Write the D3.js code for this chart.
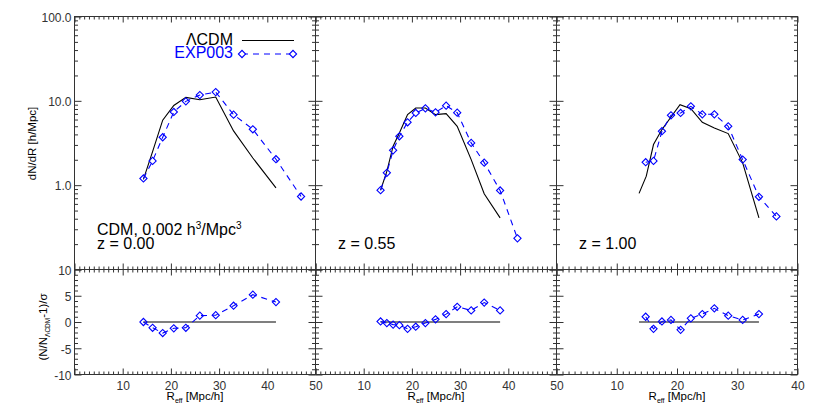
<!DOCTYPE html>
<html><head><meta charset="utf-8">
<script src="https://cdn.jsdelivr.net/npm/d3@7"></script>
<style>
body{margin:0;background:#fff}
svg{display:block;font-family:"Liberation Sans",Arial,Helvetica,sans-serif}
</style></head><body>
<svg id="c" width="830" height="415"></svg>
<script>
// ---------------- data ----------------
const redshiftLabels = ["z = 0.00", "z = 0.55", "z = 1.00"];
const seriesNames = ["\u039bCDM", "EXP003"];
const xDomains = [[0, 50], [0, 50], [0, 40]];
const xMajorTicks = [[0, 10, 20, 30, 40, 50], [0, 10, 20, 30, 40, 50], [0, 10, 20, 30, 40]];
const yTopTicks = [0.1, 1, 10, 100];
const yBotTicks = [-10, -5, 0, 5, 10];

// z = 0.00
const lcdmR_z0 = [14.3, 16.2, 18.3, 20.6, 23.1, 26.0, 29.3, 33.0, 37.0, 41.8];
const lcdmN_z0 = [1.17, 2.5, 5.9, 8.8, 11.0, 10.3, 11.1, 4.4, 2.1, 0.93];
const expR_z0 = [14.3, 16.2, 18.3, 20.6, 23.1, 26.0, 29.3, 33.0, 37.0, 41.8, 47.0];
const expN_z0 = [1.20, 1.94, 3.70, 7.38, 9.86, 11.7, 12.7, 6.86, 4.60, 2.03, 0.734];
const sigR_z0 = [14.3, 16.2, 18.3, 20.6, 23.1, 26.0, 29.3, 33.0, 37.0, 41.8];
const sigV_z0 = [0.0, -1.1, -2.1, -1.2, -1.1, 1.2, 1.3, 3.1, 5.2, 3.8];

// z = 0.55
const lcdmR_z1 = [13.5, 14.8, 16.1, 17.4, 19.1, 20.8, 22.8, 24.9, 27.1, 29.4, 32.3, 35.0, 38.3];
const lcdmN_z1 = [0.87, 1.46, 2.9, 4.16, 6.86, 8.23, 8.23, 6.86, 7.05, 4.99, 2.01, 0.79, 0.41];
const expR_z1 = [13.5, 14.8, 16.1, 17.4, 19.1, 20.8, 22.8, 24.9, 27.1, 29.4, 32.3, 35.0, 38.3, 41.9];
const expN_z1 = [0.873, 1.40, 2.59, 3.80, 5.57, 7.18, 8.15, 7.31, 8.77, 7.24, 3.17, 1.85, 0.865, 0.234];
const sigR_z1 = [13.5, 14.8, 16.1, 17.4, 19.1, 20.8, 22.8, 24.9, 27.1, 29.4, 32.3, 35.0, 38.3];
const sigV_z1 = [0.1, -0.2, -0.5, -0.6, -1.3, -0.9, -0.2, 0.5, 1.5, 2.9, 2.2, 3.7, 2.2];

// z = 1.00
const lcdmR_z2 = [13.7, 14.9, 16.1, 17.5, 19.0, 20.5, 22.3, 24.2, 26.2, 28.5, 30.9, 33.6];
const lcdmN_z2 = [0.80, 1.28, 3.03, 4.56, 6.44, 9.01, 8.08, 5.57, 4.77, 4.09, 1.84, 0.41];
const expR_z2 = [14.8, 16.1, 17.5, 19.0, 20.6, 22.3, 24.2, 26.2, 28.5, 30.9, 33.6, 36.5];
const expN_z2 = [1.87, 1.94, 4.36, 6.74, 7.18, 8.61, 6.92, 6.92, 4.99, 2.01, 0.728, 0.426];
const sigR_z2 = [14.8, 16.1, 17.5, 19.0, 20.6, 22.3, 24.2, 26.2, 28.5, 30.9, 33.6];
const sigV_z2 = [1.0, -1.3, 0.1, 0.4, -1.5, 0.7, 1.5, 2.6, 1.2, 0.4, 1.5];

const panels = [
  {lR: lcdmR_z0, lN: lcdmN_z0, eR: expR_z0, eN: expN_z0, sR: sigR_z0, sV: sigV_z0},
  {lR: lcdmR_z1, lN: lcdmN_z1, eR: expR_z1, eN: expN_z1, sR: sigR_z1, sV: sigV_z1},
  {lR: lcdmR_z2, lN: lcdmN_z2, eR: expR_z2, eN: expN_z2, sR: sigR_z2, sV: sigV_z2}
];

// ---------------- layout ----------------
const lefts = [74.5, 315.5, 556.5], rights = [315.5, 556.5, 797.5];
const topT = 16.5, topB = 269.5, botT = 269.5, botB = 374.5;
const AX = "#333", BLUE = "#0000ff";
const FONT = '"Liberation Sans",Arial,Helvetica,sans-serif';

const svg = d3.select("#c");

function styleAxis(g) {
  g.select(".domain").remove();
  g.attr("font-size", 12).attr("font-family", FONT).attr("color", AX);
  g.selectAll("line").attr("stroke-width", 1);
}

function box(g, x, y, majX, minX, majY, minY, fmtX, fmtY, lenX, lenY) {
  const [x0, x1] = x.range(), yr = y.range();
  const yb = Math.max(...yr), yt = Math.min(...yr);
  // bottom
  g.append("g").attr("transform", `translate(0,${yb})`)
    .call(d3.axisBottom(x).tickValues(majX).tickSizeInner(-lenX[0]).tickSizeOuter(0).tickPadding(7).tickFormat(fmtX)).call(styleAxis);
  g.append("g").attr("transform", `translate(0,${yb})`)
    .call(d3.axisBottom(x).tickValues(minX).tickSizeInner(-lenX[1]).tickSizeOuter(0).tickFormat("")).call(styleAxis);
  // top
  g.append("g").attr("transform", `translate(0,${yt})`)
    .call(d3.axisTop(x).tickValues(majX).tickSizeInner(-lenX[0]).tickSizeOuter(0).tickFormat("")).call(styleAxis);
  g.append("g").attr("transform", `translate(0,${yt})`)
    .call(d3.axisTop(x).tickValues(minX).tickSizeInner(-lenX[1]).tickSizeOuter(0).tickFormat("")).call(styleAxis);
  // left
  const la = g.append("g").attr("transform", `translate(${x0},0)`)
    .call(d3.axisLeft(y).tickValues(majY).tickSizeInner(-lenY[0]).tickSizeOuter(0).tickPadding(3).tickFormat(fmtY)).call(styleAxis);
  la.selectAll("text").attr("dy", "0.4em");
  g.append("g").attr("transform", `translate(${x0},0)`)
    .call(d3.axisLeft(y).tickValues(minY).tickSizeInner(-lenY[1]).tickSizeOuter(0).tickFormat("")).call(styleAxis);
  // right
  g.append("g").attr("transform", `translate(${x1},0)`)
    .call(d3.axisRight(y).tickValues(majY).tickSizeInner(-lenY[0]).tickSizeOuter(0).tickFormat("")).call(styleAxis);
  g.append("g").attr("transform", `translate(${x1},0)`)
    .call(d3.axisRight(y).tickValues(minY).tickSizeInner(-lenY[1]).tickSizeOuter(0).tickFormat("")).call(styleAxis);
  g.append("rect").attr("x", x0).attr("y", yt).attr("width", x1 - x0).attr("height", yb - yt)
    .attr("fill", "none").attr("stroke", AX).attr("stroke-width", 1);
}

const logMinor = [];
[0.1, 1, 10].forEach(d => { for (let k = 2; k <= 9; k++) logMinor.push(d * k); });
const diamond = d3.symbol().type(d3.symbolSquare).size(26);

panels.forEach((p, i) => {
  const x = d3.scaleLinear().domain(xDomains[i]).range([lefts[i], rights[i]]);
  const yT = d3.scaleLog().domain([0.1, 100]).range([topB, topT]);
  const yB = d3.scaleLinear().domain([-10, 10]).range([botB, botT]);
  const minX = d3.range(xDomains[i][0], xDomains[i][1] + 0.001, 1).filter(v => v % 10 !== 0);
  const g = svg.append("g");

  const fmtX = d => (d === 0 ? "" : d);
  box(g, x, yT, xMajorTicks[i], minX, yTopTicks, logMinor, "",
      i === 0 ? (d => (d >= 1 ? d.toFixed(1) : "")) : "", [6, 3], [7, 3.5]);
  box(g, x, yB, xMajorTicks[i], minX, yBotTicks, d3.range(-9, 10).filter(v => v % 5 !== 0), fmtX,
      i === 0 ? (d => d) : "", [6, 3], [7, 3.5]);

  // top panel lines
  const lineT = d3.line().x(d => x(d[0])).y(d => yT(d[1]));
  g.append("path").datum(d3.zip(p.lR, p.lN)).attr("d", lineT)
    .attr("fill", "none").attr("stroke", "#000").attr("stroke-width", 1.1);
  g.append("path").datum(d3.zip(p.eR, p.eN)).attr("d", lineT)
    .attr("fill", "none").attr("stroke", BLUE).attr("stroke-width", 1.1).attr("stroke-dasharray", "6,5");
  g.selectAll(".dt").data(d3.zip(p.eR, p.eN)).join("path")
    .attr("d", diamond).attr("transform", d => `translate(${x(d[0])},${yT(d[1])}) rotate(45)`)
    .attr("fill", "none").attr("stroke", BLUE).attr("stroke-width", 1.1);

  // bottom panel
  const lineB = d3.line().x(d => x(d[0])).y(d => yB(d[1]));
  g.append("path").datum([[d3.min(p.lR), 0], [d3.max(p.lR), 0]]).attr("d", lineB)
    .attr("fill", "none").attr("stroke", "#000").attr("stroke-width", 1.1);
  g.append("path").datum(d3.zip(p.sR, p.sV)).attr("d", lineB)
    .attr("fill", "none").attr("stroke", BLUE).attr("stroke-width", 1.1).attr("stroke-dasharray", "6,5");
  g.selectAll(".db").data(d3.zip(p.sR, p.sV)).join("path")
    .attr("d", diamond).attr("transform", d => `translate(${x(d[0])},${yB(d[1])}) rotate(45)`)
    .attr("fill", "none").attr("stroke", BLUE).attr("stroke-width", 1.1);

  // redshift label
  svg.append("text").attr("x", lefts[i] + 22.5).attr("y", 249).attr("font-size", 16)
    .attr("fill", "#000").text(redshiftLabels[i]);

  // x label
  const xl = svg.append("text").attr("x", (lefts[i] + rights[i]) / 2).attr("y", 400)
    .attr("text-anchor", "middle").attr("font-size", 11.5).attr("fill", "#000");
  xl.append("tspan").text("R");
  xl.append("tspan").attr("font-size", 7).attr("dy", 2.5).text("eff");
  xl.append("tspan").attr("dy", -2.5).text(" [Mpc/h]");
});

// model label
const ml = svg.append("text").attr("x", 97).attr("y", 235).attr("font-size", 16).attr("fill", "#000");
ml.append("tspan").text("CDM, 0.002 h");
ml.append("tspan").attr("font-size", 10).attr("dy", -6).text("3");
ml.append("tspan").attr("dy", 6).text("/Mpc");
ml.append("tspan").attr("font-size", 10).attr("dy", -6).text("3");

// legend
svg.append("text").attr("x", 233).attr("y", 44.5).attr("text-anchor", "end").attr("font-size", 16)
  .attr("fill", "#000").text(seriesNames[0]);
svg.append("line").attr("x1", 242).attr("x2", 294).attr("y1", 40.5).attr("y2", 40.5)
  .attr("stroke", "#000").attr("stroke-width", 1.1);
svg.append("text").attr("x", 233).attr("y", 57.5).attr("text-anchor", "end").attr("font-size", 16)
  .attr("fill", BLUE).text(seriesNames[1]);
svg.append("line").attr("x1", 242).attr("x2", 293).attr("y1", 54).attr("y2", 54)
  .attr("stroke", BLUE).attr("stroke-width", 1.1).attr("stroke-dasharray", "6,5");
[242, 293].forEach(px => svg.append("path").attr("d", diamond)
  .attr("transform", `translate(${px},54) rotate(45)`).attr("fill", "#fff")
  .attr("stroke", BLUE).attr("stroke-width", 1.1));

// y labels
svg.append("text").attr("transform", "translate(36,143.5) rotate(-90)").attr("text-anchor", "middle")
  .attr("font-size", 11.5).attr("fill", "#000").text("dN/dR [h/Mpc]");
const yl = svg.append("text").attr("transform", "translate(47,327) rotate(-90)").attr("text-anchor", "middle")
  .attr("font-size", 11.5).attr("fill", "#000");
yl.append("tspan").text("(N/N");
yl.append("tspan").attr("font-size", 6.5).attr("dy", 2.5).text("\u039bCDM");
yl.append("tspan").attr("dy", -2.5).text("-1)/\u03c3");
</script>
</body></html>
